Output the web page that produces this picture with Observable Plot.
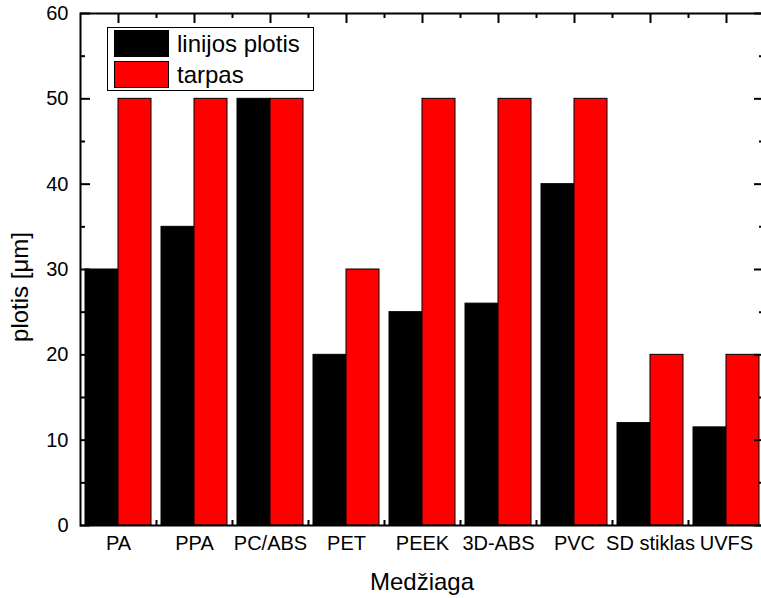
<!DOCTYPE html>
<html><head><meta charset="utf-8">
<script src="https://cdn.jsdelivr.net/npm/d3@7"></script>
<script src="https://cdn.jsdelivr.net/npm/@observablehq/plot@0.6"></script>
<style>
html,body{margin:0;padding:0;background:#fff;overflow:hidden;}
#wrap{position:relative;width:761px;height:598px;overflow:hidden;font-family:"Liberation Sans",Arial,sans-serif;color:#000;}
#wrap svg{display:block;}
#legend{position:absolute;left:107px;top:27px;width:207px;height:64px;box-sizing:border-box;border:1px solid #000;background:#fff;}
.sw{position:absolute;left:6px;width:55px;height:27px;box-sizing:border-box;border:1px solid #000;}
.lt{position:absolute;left:69px;height:27px;line-height:27px;font-size:24px;white-space:nowrap;}
#ytitle{position:absolute;left:20px;top:287px;font-size:24px;line-height:24px;white-space:nowrap;transform:translate(-50%,-50%) rotate(-90deg);}
#xtitle{position:absolute;left:422px;top:570px;font-size:24px;line-height:24px;white-space:nowrap;transform:translateX(-50%);}
</style>
</head><body>
<div id="wrap"></div>
<script>
const categories = ["PA","PPA","PC/ABS","PET","PEEK","3D-ABS","PVC","SD stiklas","UVFS"];
const linijosPlotis = [30,35,50,20,25,26,40,12,11.5];
const tarpas = [50,50,50,30,50,50,50,20,20];
const yTicks = [0,10,20,30,40,50,60];
const yMinorTicks = [5,15,25,35,45,55];
const seriesNames = ["linijos plotis","tarpas"];
const seriesColors = ["#000000","#ff0000"];

const rows = categories.map((c,i)=>({c, lp: linijosPlotis[i], t: tarpas[i]}));
const leftX = 80, rightX = 764, topY = 13, bottomY = 525;
const fw = rightX - leftX, fh = bottomY - topY;
const half = fw/categories.length/2;
const major = 10, minor = 5;
const tk = {stroke: "#000", strokeWidth: 2};

const chart = Plot.plot({
  width: 761, height: 598,
  marginLeft: leftX, marginRight: 761 - rightX, marginTop: topY, marginBottom: 598 - bottomY,
  style: {fontFamily: "Liberation Sans, Arial, sans-serif", fontSize: "20px", color: "#000", background: "#fff", maxWidth: "none"},
  x: {type: "band", domain: categories, padding: 0, range: [leftX, rightX]},
  y: {domain: [0, 60], range: [bottomY, topY]},
  marks: [
    Plot.ruleX(categories, {x: d => d, insetTop: fh - major, ...tk}),
    Plot.barY(rows, {x: "c", y: "lp", fill: seriesColors[0], stroke: "#000", strokeWidth: 1, insetLeft: 5, insetRight: half}),
    Plot.barY(rows, {x: "c", y: "t", fill: seriesColors[1], stroke: "#000", strokeWidth: 1, insetLeft: half, insetRight: 5}),
    Plot.axisX({anchor: "bottom", tickSize: 0, tickPadding: 10, fontSize: 20, fill: "#000", label: null}),
    Plot.axisY({anchor: "left", ticks: yTicks, tickSize: 0, tickPadding: 12, fontSize: 20, fill: "#000", label: null}),
    Plot.ruleX(categories.slice(1), {x: d => d, dx: -half, insetTop: fh - minor, ...tk}),
    Plot.ruleX(categories.slice(1), {x: d => d, dx: -half, insetBottom: fh - minor, ...tk}),
    Plot.ruleX(categories, {x: d => d, insetBottom: fh - major, ...tk}),
    Plot.ruleY(yTicks, {y: d => d, insetRight: fw - major, ...tk}),
    Plot.ruleY(yMinorTicks, {y: d => d, insetRight: fw - minor, ...tk}),
    Plot.ruleY(yTicks, {y: d => d, insetLeft: fw - major, ...tk}),
    Plot.ruleY(yMinorTicks, {y: d => d, insetLeft: fw - minor, ...tk}),
    Plot.frame({stroke: "#000", strokeWidth: 2})
  ]
});
const wrap = document.getElementById("wrap");
wrap.appendChild(chart);

const legend = document.createElement("div");
legend.id = "legend";
seriesNames.forEach((name, i) => {
  const t = 2 + i * 31;
  const sw = document.createElement("div");
  sw.className = "sw"; sw.style.top = t + "px"; sw.style.background = seriesColors[i];
  const lt = document.createElement("div");
  lt.className = "lt"; lt.style.top = t + "px"; lt.textContent = name;
  legend.appendChild(sw); legend.appendChild(lt);
});
wrap.appendChild(legend);

const yt = document.createElement("div"); yt.id = "ytitle"; yt.textContent = "plotis [\u03bcm]"; wrap.appendChild(yt);
const xt = document.createElement("div"); xt.id = "xtitle"; xt.textContent = "Medžiaga"; wrap.appendChild(xt);
</script>
</body></html>
